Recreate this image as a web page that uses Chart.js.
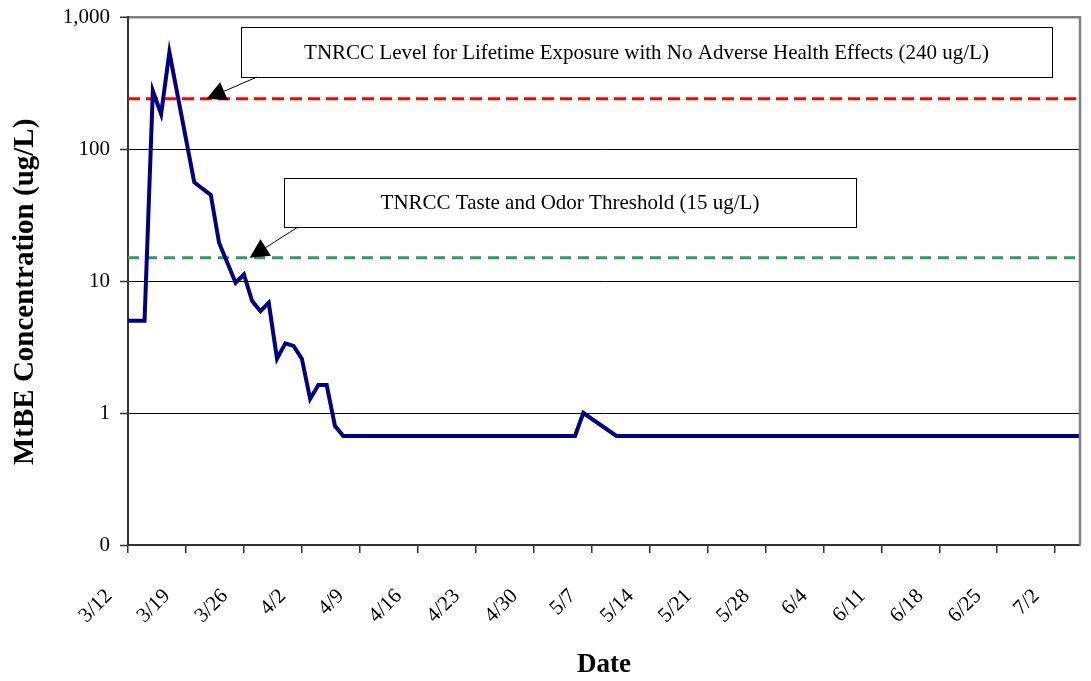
<!DOCTYPE html>
<html><head><meta charset="utf-8">
<script src="https://cdn.jsdelivr.net/npm/chart.js@4.4.1/dist/chart.umd.min.js"></script>
<style>html,body{margin:0;padding:0;background:#fff;}</style>
</head><body>
<canvas id="c" width="1091" height="681"></canvas>
<script>
// ---- data ----
const sampleDates = ['3/12','3/14','3/15','3/16','3/17','3/20','3/21','3/22','3/23','3/25','3/26','3/27','3/28','3/29','3/30','3/31','4/1','4/2','4/3','4/4','4/5','4/6','4/7','4/9','4/11','4/13','4/16','4/18','4/20','4/23','4/25','4/28','5/1','5/2','5/3','5/4','5/5','5/6','5/10','5/14','5/17','5/21','5/24','5/28','5/31','6/4','6/7','6/11','6/14','6/18','6/21','6/25','6/28','7/2','7/5'];
const mtbeValues = [5,5,275,184,540,56,50,45,19.5,9.7,11.2,7.05,5.9,6.85,2.58,3.37,3.22,2.58,1.28,1.63,1.63,0.8,0.67,0.67,0.67,0.67,0.67,0.67,0.67,0.67,0.67,0.67,0.67,0.67,0.67,0.67,0.67,1.0,0.67,0.67,0.67,0.67,0.67,0.67,0.67,0.67,0.67,0.67,0.67,0.67,0.67,0.67,0.67,0.67,0.67];
const lifetimeLevel = 240;   // ug/L
const tasteOdorLevel = 15;   // ug/L
const xTickLabels = ['3/12','3/19','3/26','4/2','4/9','4/16','4/23','4/30','5/7','5/14','5/21','5/28','6/4','6/11','6/18','6/25','7/2'];
const yTickValues = [0.1,1,10,100,1000];
const yTickLabels = ['0','1','10','100','1,000'];
const firstDate = '3/12';
const lastDate = '7/5';

// day index relative to 3/12
const monthOffset = {3:0,4:31,5:61,6:92,7:122};
function dayIndex(s){const [m,d]=s.split('/').map(Number);return monthOffset[m]+d-12;}

const lineData = sampleDates.map((d,i)=>({x:dayIndex(d),y:mtbeValues[i]}));
const xMin = dayIndex(firstDate), xMax = dayIndex(lastDate);

const SERIF = "'Liberation Serif','Times New Roman',serif";

const annotationPlugin = {
  id:'annot',
  beforeDraw(chart){
    const c=chart.ctx;c.save();c.fillStyle='#fff';c.fillRect(0,0,chart.width,chart.height);c.restore();
  },
  afterDraw(chart){
    const c=chart.ctx, xs=chart.scales.x, ys=chart.scales.y, a=chart.chartArea;
    c.save();
    // plot area right border
    c.strokeStyle='#808080';c.lineWidth=2.5;
    c.beginPath();c.moveTo(a.right,a.top-1);c.lineTo(a.right,a.bottom);c.stroke();
    const boxes=[
      {x:241,y:27,w:811,h:50,text:'TNRCC Level for Lifetime Exposure with No Adverse Health Effects (240 ug/L)',from:[257,77],tipDay:9.5,tipVal:lifetimeLevel},
      {x:284,y:178,w:572,h:49,text:'TNRCC Taste and Odor Threshold (15 ug/L)',from:[298,227],tipDay:14.7,tipVal:tasteOdorLevel}
    ];
    boxes.forEach(b=>{
      c.fillStyle='#fff';c.fillRect(b.x,b.y,b.w,b.h);
      c.strokeStyle='#000';c.lineWidth=1;c.strokeRect(b.x+0.5,b.y+0.5,b.w,b.h);
      c.fillStyle='#000';c.font='21px '+SERIF;c.textAlign='center';c.textBaseline='middle';
      c.fillText(b.text,b.x+b.w/2,b.y+b.h/2+1);
      const tx=xs.getPixelForValue(b.tipDay), ty=ys.getPixelForValue(b.tipVal);
      const dx=tx-b.from[0], dy=ty-b.from[1], L=Math.hypot(dx,dy), ux=dx/L, uy=dy/L;
      const hl=19, hw=9.8;
      const bx=tx-ux*hl, by=ty-uy*hl;
      c.strokeStyle='#000';c.lineWidth=1;
      c.beginPath();c.moveTo(b.from[0],b.from[1]);c.lineTo(bx,by);c.stroke();
      c.beginPath();c.moveTo(tx,ty);c.lineTo(bx-uy*hw,by+ux*hw);c.lineTo(bx+uy*hw,by-ux*hw);c.closePath();c.fill();
    });
    c.restore();
  }
};

new Chart(document.getElementById('c'),{
  type:'line',
  data:{datasets:[
    {data:lineData,borderColor:'#000080',borderWidth:4,pointRadius:0,tension:0,borderJoinStyle:'miter',fill:false},
    {data:[{x:xMin,y:lifetimeLevel},{x:xMax,y:lifetimeLevel}],borderColor:'#FF0000',borderWidth:3,borderDash:[12,6],pointRadius:0,fill:false},
    {data:[{x:xMin,y:tasteOdorLevel},{x:xMax,y:tasteOdorLevel}],borderColor:'#339966',borderWidth:3,borderDash:[11,7],pointRadius:0,fill:false}
  ]},
  options:{
    responsive:false,animation:false,devicePixelRatio:1,
    layout:{padding:{top:17,right:11,left:0,bottom:0}},
    plugins:{legend:{display:false},tooltip:{enabled:false}},
    scales:{
      x:{type:'linear',min:xMin,max:xMax,
        afterBuildTicks(s){s.ticks=xTickLabels.map(l=>({value:dayIndex(l)}));},
        afterFit(s){s.height=136;s.paddingLeft=0;s.paddingRight=0;},
        ticks:{autoSkip:false,minRotation:45,maxRotation:45,labelOffset:-19,padding:31,color:'#000',font:{family:SERIF,size:21},
          callback:(v,i)=>xTickLabels[i]},
        grid:{display:true,drawOnChartArea:false,drawTicks:true,tickLength:8,color:'#333',lineWidth:1.5},
        border:{display:true,color:'#333',width:2},
        title:{display:true,text:'Date',color:'#000',font:{family:SERIF,size:27,weight:'bold'},padding:{top:0,bottom:0}}
      },
      y:{type:'logarithmic',min:0.1,max:1000,
        afterBuildTicks(s){s.ticks=yTickValues.map(v=>({value:v,major:true}));},
        afterFit(s){s.width=128;s.paddingTop=0;s.paddingBottom=0;},
        ticks:{padding:10,color:'#000',font:{family:SERIF,size:21},callback:(v,i)=>yTickLabels[i]},
        grid:{display:true,drawTicks:true,tickLength:8,
          color:(ctx)=>ctx.tick&&ctx.tick.value===1000?'#808080':'#000',
          lineWidth:(ctx)=>ctx.tick&&ctx.tick.value===1000?2.5:1,
          tickColor:'#333',tickWidth:1.5},
        border:{display:true,color:'#333',width:2},
        title:{display:true,text:'MtBE Concentration (ug/L)   ',color:'#000',font:{family:SERIF,size:29,weight:'bold'},padding:{top:8,bottom:0}}
      }
    }
  },
  plugins:[annotationPlugin]
});
</script>
</body></html>
